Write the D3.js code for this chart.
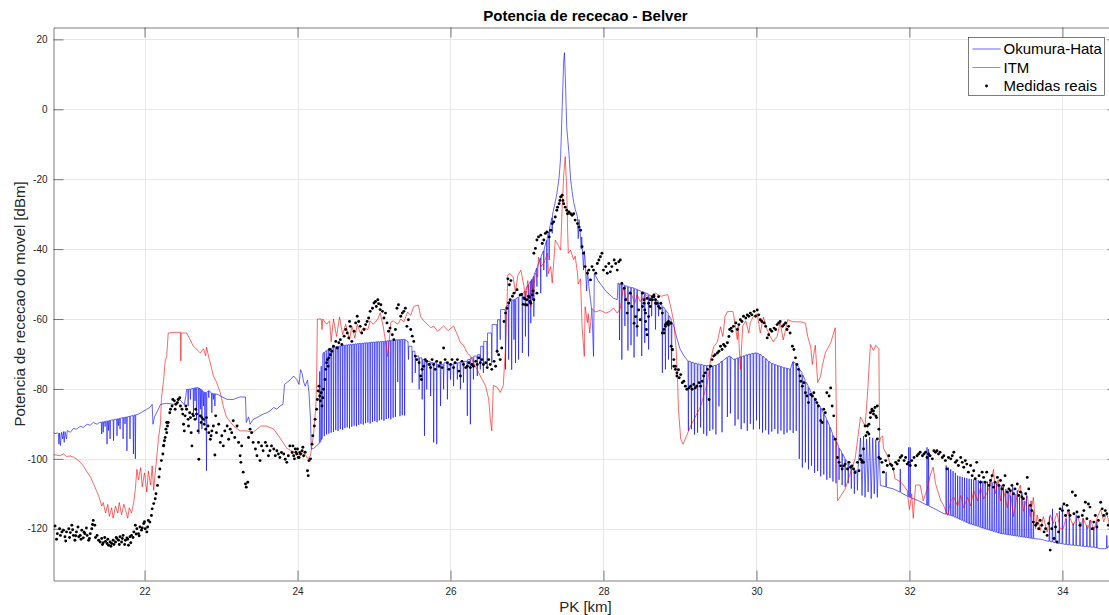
<!DOCTYPE html>
<html>
<head>
<meta charset="utf-8">
<script src="https://cdn.jsdelivr.net/npm/d3@7"></script>
<style>
  html, body { margin: 0; padding: 0; background: #ffffff; }
  svg { display: block; font-family: "Liberation Sans", Arial, Helvetica, sans-serif; }
</style>
</head>
<body>
<svg id="chart" width="1109" height="615"></svg>
<script>
// Axis ticks
const xTicks = [22, 24, 26, 28, 30, 32, 34];
const yTicks = [-120, -100, -80, -60, -40, -20, 0, 20];
const seriesNames = ["Okumura-Hata", "ITM", "Medidas reais"];

// Okumura-Hata prediction [PK km, dBm]
const hataPts = [
[20.81,-92.4],[20.83,-92.8],[20.86,-92.6],[20.875,-92.7],[20.88,-95.8],[20.89,-92.6],[20.90,-96.2],[20.915,-92.4],[20.93,-94.3],[20.94,-92.2],[20.95,-95.3],[20.96,-92.2],[20.98,-94.3],[20.99,-91.9],[21.03,-92.4],[21.07,-91.3],[21.11,-91.5],[21.16,-90.7],[21.20,-91.0],[21.25,-90.1],[21.29,-90.4],[21.33,-89.6],[21.38,-90.1],[21.41,-89.6],
[21.435,-89.5],[21.44,-92.9],[21.445,-89.5],[21.455,-89.4],[21.46,-92.4],[21.465,-89.4],[21.48,-89.3],[21.485,-90.8],[21.49,-89.3],[21.505,-89.2],[21.51,-95.8],[21.515,-89.2],[21.525,-89.1],[21.53,-91.9],[21.535,-89.1],[21.545,-89.0],[21.55,-94.3],[21.555,-89.0],[21.59,-88.8],[21.595,-94.8],[21.60,-88.8],[21.635,-88.6],[21.64,-93.4],[21.645,-88.6],[21.655,-88.5],[21.66,-90.5],[21.665,-88.5],[21.675,-88.4],[21.68,-91.5],[21.685,-88.4],[21.715,-88.2],[21.72,-94.3],[21.725,-88.2],[21.74,-88.1],[21.745,-90.0],[21.75,-88.1],[21.765,-88.0],[21.77,-97.7],[21.775,-88.0],[21.805,-87.8],[21.81,-94.3],[21.815,-87.8],[21.85,-87.6],[21.855,-98.6],[21.86,-87.6],[21.875,-87.4],[21.88,-100.0],[21.885,-87.4],
[21.92,-87.2],[21.96,-86.7],[22.03,-85.8],[22.07,-85.3],[22.10,-84.4],[22.11,-90.1],[22.13,-88.0],[22.17,-86.3],[22.21,-84.4],[22.29,-84.1],[22.38,-84.4],[22.42,-84.0],[22.46,-83.0],[22.52,-84.5],[22.54,-82.0],[22.55,-80.1],
[22.565,-80.1],[22.57,-84.9],[22.575,-80.1],[22.595,-80.0],[22.60,-83.0],[22.605,-80.0],[22.635,-79.8],[22.64,-86.8],[22.645,-79.8],[22.655,-79.7],[22.66,-83.4],[22.665,-79.7],[22.675,-79.6],[22.68,-88.7],[22.685,-79.6],[22.705,-79.7],[22.71,-92.9],[22.715,-79.7],[22.725,-80.0],[22.73,-85.8],[22.735,-80.0],[22.745,-80.4],[22.75,-91.5],[22.755,-80.4],[22.765,-80.8],[22.77,-84.9],[22.775,-80.8],[22.785,-81.0],[22.79,-89.6],[22.795,-81.0],[22.805,-81.0],[22.81,-103.4],[22.815,-81.0],[22.835,-80.5],[22.84,-82.5],[22.845,-80.5],[22.875,-81.2],[22.88,-86.8],[22.885,-81.2],[22.895,-81.3],[22.90,-83.0],[22.905,-81.3],[22.915,-81.4],[22.92,-84.9],[22.925,-81.4],[22.96,-81.6],
[22.99,-82.0],[23.08,-83.0],[23.16,-83.0],[23.25,-82.3],[23.32,-82.3],[23.33,-89.6],[23.36,-88.0],[23.38,-90.1],[23.42,-88.7],[23.47,-88.2],[23.51,-87.7],[23.55,-87.2],[23.60,-86.8],[23.64,-86.3],[23.69,-85.3],[23.73,-85.8],[23.77,-84.9],[23.81,-84.4],[23.83,-78.7],[23.86,-78.2],[23.91,-77.3],[23.95,-76.3],[23.99,-77.3],[24.02,-78.7],[24.04,-74.5],[24.06,-75.5],[24.08,-78.0],[24.10,-79.2],[24.13,-77.5],[24.15,-81.1],[24.17,-88.7],[24.18,-97.2],[24.21,-97.0],[24.24,-96.5],[24.26,-96.0],[24.275,-95.8],
[24.285,-95.5],[24.29,-75.0],[24.295,-95.3],[24.305,-95.0],[24.31,-73.5],[24.315,-94.5],[24.325,-94.0],[24.33,-70.0],[24.335,-69.8],
[24.345,-69.5],[24.35,-93.5],[24.355,-69.5],[24.375,-69.0],[24.38,-93.0],[24.385,-69.0],[24.405,-68.6],[24.41,-92.8],[24.415,-68.6],[24.435,-68.3],[24.44,-92.5],[24.445,-68.3],[24.465,-68.1],[24.47,-92.3],[24.475,-68.1],[24.495,-67.9],[24.50,-91.8],[24.505,-67.9],[24.525,-67.8],[24.53,-92.0],[24.535,-67.8],[24.555,-67.7],[24.56,-91.5],[24.565,-67.7],[24.585,-67.6],[24.59,-91.7],[24.595,-67.6],[24.615,-67.5],[24.62,-91.2],[24.625,-67.5],[24.645,-67.4],[24.65,-91.0],[24.655,-67.4],[24.675,-67.3],[24.68,-91.3],[24.685,-67.3],[24.705,-67.3],[24.71,-90.8],[24.715,-67.3],[24.735,-67.2],[24.74,-90.5],[24.745,-67.2],[24.765,-67.1],[24.77,-90.7],[24.775,-67.1],[24.795,-67.0],[24.80,-90.3],[24.805,-67.0],[24.825,-67.0],[24.83,-90.0],[24.835,-67.0],[24.855,-66.9],[24.86,-90.2],[24.865,-66.9],[24.885,-66.8],[24.89,-89.8],[24.895,-66.8],[24.915,-66.8],[24.92,-89.6],[24.925,-66.8],[24.945,-66.7],[24.95,-89.9],[24.955,-66.7],[24.975,-66.6],[24.98,-89.4],[24.985,-66.6],[25.005,-66.6],[25.01,-89.2],[25.015,-66.6],[25.035,-66.5],[25.04,-89.5],[25.045,-66.5],[25.065,-66.5],[25.07,-89.0],[25.075,-66.5],[25.095,-66.4],[25.10,-88.8],[25.105,-66.4],[25.125,-66.4],[25.13,-89.1],[25.135,-66.4],[25.155,-66.3],[25.16,-88.6],[25.165,-66.3],[25.185,-66.2],[25.19,-88.4],[25.195,-66.2],[25.215,-66.1],[25.22,-88.7],[25.225,-66.1],[25.245,-66.0],[25.25,-88.2],[25.255,-66.0],[25.275,-66.0],[25.28,-88.0],[25.285,-66.0],[25.305,-65.9],[25.31,-78.0],[25.315,-65.9],[25.335,-65.9],[25.34,-87.8],[25.345,-65.9],[25.365,-65.8],[25.37,-87.5],[25.375,-65.8],[25.395,-65.8],[25.40,-87.6],[25.405,-65.8],
[25.43,-66.4],[25.445,-66.4],[25.45,-71.6],[25.455,-67.8],[25.495,-67.8],[25.50,-78.2],[25.505,-69.2],[25.535,-69.2],[25.54,-75.4],[25.545,-70.6],[25.585,-70.6],[25.59,-80.1],[25.595,-71.1],[25.625,-71.1],[25.63,-83.0],[25.635,-71.6],[25.655,-71.6],[25.66,-93.4],[25.665,-72.1],[25.685,-72.1],[25.69,-80.1],[25.695,-72.1],[25.735,-72.1],[25.74,-82.0],[25.745,-72.5],[25.775,-72.5],[25.78,-95.3],[25.785,-72.5],[25.815,-72.5],[25.82,-95.8],[25.825,-73.0],[25.865,-73.0],[25.87,-84.9],[25.875,-73.0],[25.905,-73.0],[25.91,-80.1],[25.915,-72.5],[25.955,-72.5],[25.96,-83.0],[25.965,-73.0],[25.995,-73.0],[26.00,-77.3],[26.005,-73.0],[26.035,-73.0],[26.04,-79.2],[26.045,-72.5],[26.085,-72.5],[26.09,-77.3],[26.095,-72.5],[26.125,-72.5],[26.13,-80.1],[26.135,-72.1],[26.165,-72.1],[26.17,-78.2],[26.175,-72.1],[26.215,-72.1],[26.22,-87.7],[26.225,-71.6],[26.255,-71.6],[26.26,-90.1],[26.265,-71.1],[26.295,-71.1],[26.30,-77.3],[26.305,-70.6],[26.345,-70.6],[26.35,-76.3],[26.355,-70.2],[26.385,-70.2],[26.39,-74.4],[26.395,-67.8],[26.425,-67.8],[26.43,-75.4],[26.435,-66.4],[26.475,-66.4],[26.48,-73.5],[26.485,-64.0],[26.535,-64.0],[26.54,-72.5],[26.545,-61.6],[26.605,-61.6],[26.61,-69.7],[26.615,-60.2],[26.645,-60.2],[26.65,-65.9],[26.655,-57.3],[26.715,-57.3],[26.72,-74.4],[26.725,-56.4],
[26.755,-56.0],[26.76,-71.6],[26.765,-55.0],[26.795,-54.9],[26.80,-74.5],[26.805,-54.6],[26.825,-54.5],[26.83,-65.9],[26.835,-54.4],[26.845,-54.3],[26.85,-72.6],[26.855,-54.1],[26.885,-53.8],[26.89,-71.6],[26.895,-53.6],[26.935,-53.0],[26.94,-69.7],[26.945,-52.7],[26.975,-52.0],[26.98,-65.0],[26.985,-51.5],[27.015,-50.3],[27.02,-70.7],[27.025,-50.0],[27.045,-49.2],[27.05,-61.2],[27.055,-49.0],[27.065,-48.6],[27.07,-54.5],[27.075,-48.3],[27.085,-47.8],[27.09,-59.3],[27.095,-47.3],[27.125,-45.5],[27.13,-50.7],[27.135,-45.0],[27.175,-42.5],[27.18,-52.6],[27.185,-42.0],[27.215,-40.5],[27.22,-46.0],[27.225,-40.0],[27.255,-37.5],[27.26,-47.9],[27.265,-36.5],[27.285,-35.0],[27.29,-43.1],[27.295,-34.0],[27.325,-31.0],[27.33,-35.5],[27.335,-30.0],
[27.36,-27.5],[27.39,-24.2],[27.42,-19.5],[27.44,-13.7],[27.46,0.5],[27.48,13.8],[27.49,16.2],[27.50,10.0],[27.52,-5.2],[27.55,-13.0],[27.57,-20.0],[27.59,-23.5],[27.61,-26.5],[27.63,-28.5],[27.66,-30.8],[27.67,-37.0],[27.68,-31.5],[27.69,-33.6],[27.71,-40.0],[27.715,-36.5],[27.72,-38.4],[27.74,-46.0],[27.75,-40.5],[27.76,-43.1],[27.78,-52.0],[27.79,-46.0],[27.81,-50.7],[27.83,-54.5],[27.85,-58.0],[27.87,-70.7],[27.88,-47.0],[27.93,-49.0],[27.98,-50.5],[28.03,-52.0],[28.08,-53.0],[28.13,-54.0],[28.18,-54.5],[28.19,-49.7],
[28.205,-49.8],[28.21,-66.0],[28.215,-50.0],[28.235,-50.1],[28.24,-71.6],[28.245,-50.2],[28.275,-50.3],[28.28,-62.0],[28.285,-50.5],[28.315,-50.6],[28.32,-69.0],[28.325,-50.8],[28.355,-50.9],[28.36,-67.5],[28.365,-51.0],[28.395,-51.1],[28.40,-71.0],[28.405,-51.3],[28.435,-51.5],[28.44,-65.0],[28.445,-51.6],
[28.495,-52.1],[28.50,-70.6],[28.505,-52.2],[28.535,-52.3],[28.54,-66.8],[28.545,-52.5],[28.585,-52.8],[28.59,-68.7],[28.595,-53.1],[28.625,-53.3],[28.63,-59.2],[28.635,-53.6],[28.675,-54.0],[28.68,-63.0],[28.685,-54.5],[28.715,-54.8],[28.72,-59.2],[28.725,-55.5],[28.765,-56.0],[28.77,-75.4],[28.775,-56.5],[28.805,-57.0],[28.81,-74.4],[28.815,-57.5],[28.845,-58.3],[28.85,-71.6],[28.855,-59.0],[28.885,-60.0],[28.89,-74.4],[28.895,-61.0],
[28.92,-62.1],[28.96,-65.5],[29.00,-68.5],[29.05,-70.5],[29.09,-71.6],
[29.105,-72.0],[29.11,-92.0],[29.115,-72.0],[29.145,-72.3],[29.15,-91.5],[29.155,-72.3],[29.185,-72.6],[29.19,-93.0],[29.195,-72.6],[29.225,-72.8],[29.23,-92.5],[29.235,-72.8],[29.265,-73.0],[29.27,-91.0],[29.275,-73.0],[29.305,-73.2],[29.31,-92.8],[29.315,-73.2],[29.345,-73.3],[29.35,-93.4],[29.355,-73.3],[29.385,-73.4],[29.39,-92.0],[29.395,-73.4],[29.425,-73.4],[29.43,-91.6],[29.435,-73.4],[29.465,-73.2],[29.47,-93.0],[29.475,-73.2],[29.505,-72.8],[29.51,-85.0],[29.515,-72.8],[29.545,-72.0],[29.55,-92.4],[29.555,-72.0],
[29.58,-71.6],[29.615,-71.0],[29.62,-88.0],[29.625,-70.8],[29.655,-70.6],[29.66,-87.0],[29.665,-70.8],[29.70,-71.6],
[29.715,-71.4],[29.72,-90.5],[29.725,-71.4],[29.755,-71.1],[29.76,-88.7],[29.765,-71.1],[29.795,-70.8],[29.80,-91.5],[29.805,-70.8],[29.835,-70.5],[29.84,-89.8],[29.845,-70.5],[29.875,-70.2],[29.88,-92.0],[29.885,-70.2],[29.915,-70.0],[29.92,-90.0],[29.925,-70.0],[29.955,-69.8],[29.96,-91.6],[29.965,-69.8],[29.995,-69.7],[30.00,-89.0],[30.005,-69.7],
[30.035,-70.0],[30.04,-91.5],[30.045,-70.0],[30.075,-70.6],[30.08,-92.5],[30.085,-70.6],[30.115,-71.3],[30.12,-91.8],[30.125,-71.3],[30.155,-72.1],[30.16,-93.0],[30.165,-72.1],[30.195,-72.7],[30.20,-92.2],[30.205,-72.7],[30.235,-73.0],[30.24,-91.5],[30.245,-73.0],[30.275,-73.3],[30.28,-92.8],[30.285,-73.3],[30.315,-73.6],[30.32,-91.9],[30.325,-73.6],[30.355,-73.9],[30.36,-93.0],[30.365,-73.9],[30.395,-74.1],[30.40,-92.5],[30.405,-74.1],[30.435,-74.3],[30.44,-91.8],[30.445,-74.3],[30.475,-72.2],[30.48,-92.6],[30.485,-72.2],[30.515,-72.8],[30.52,-92.0],[30.525,-72.8],
[30.555,-73.8],[30.56,-100.0],[30.565,-74.4],[30.595,-75.3],[30.60,-102.5],[30.605,-76.0],[30.635,-77.3],[30.64,-101.0],[30.645,-78.0],[30.675,-79.0],[30.68,-103.0],[30.685,-79.6],[30.715,-81.0],[30.72,-102.0],[30.725,-81.5],[30.755,-82.5],[30.76,-104.0],[30.765,-83.0],[30.795,-84.0],[30.80,-103.5],[30.805,-84.5],[30.835,-85.0],[30.84,-105.0],[30.845,-85.5],[30.875,-86.8],[30.88,-104.5],[30.885,-87.2],[30.915,-88.5],[30.92,-106.0],[30.925,-89.0],[30.955,-90.5],[30.96,-105.5],[30.965,-91.0],[30.995,-92.8],[31.00,-106.5],[31.005,-93.3],[31.035,-94.5],[31.04,-107.0],[31.045,-95.0],[31.075,-96.5],[31.08,-106.0],[31.085,-97.0],[31.115,-98.0],[31.12,-107.5],[31.125,-98.5],[31.155,-99.8],[31.16,-108.0],[31.165,-100.2],[31.195,-101.0],[31.20,-107.0],[31.205,-101.5],[31.235,-102.0],[31.24,-108.5],[31.245,-102.3],[31.275,-102.9],[31.28,-110.0],[31.285,-103.2],[31.315,-103.5],[31.32,-109.0],[31.325,-103.8],
[31.36,-94.0],[31.38,-110.5],[31.40,-93.5],[31.42,-111.0],[31.44,-94.3],[31.46,-109.5],[31.48,-93.8],[31.50,-111.4],[31.52,-94.0],[31.54,-110.0],[31.56,-94.5],[31.58,-111.0],[31.60,-95.0],[31.62,-107.6],
[31.69,-108.0],[31.695,-103.8],[31.70,-108.1],[31.79,-108.6],[31.875,-109.5],[31.88,-102.9],[31.885,-109.6],[31.985,-110.8],[31.99,-96.7],[31.995,-110.9],[32.005,-111.0],[32.01,-96.7],[32.015,-111.1],[32.12,-112.0],[32.225,-113.2],[32.23,-96.7],[32.235,-113.3],[32.245,-113.4],[32.25,-97.2],[32.255,-113.5],[32.35,-114.5],[32.45,-115.7],
[32.475,-115.8],[32.48,-101.9],[32.485,-115.8],[32.505,-116.0],[32.51,-102.5],[32.515,-116.0],[32.535,-116.2],[32.54,-103.0],[32.545,-116.2],[32.565,-116.4],[32.57,-103.5],[32.575,-116.4],[32.595,-116.7],[32.60,-104.0],[32.605,-116.7],[32.625,-117.0],[32.63,-104.8],[32.635,-117.0],[32.655,-117.3],[32.66,-105.0],[32.665,-117.3],[32.685,-117.6],[32.69,-105.2],[32.695,-117.6],[32.715,-117.9],[32.72,-105.4],[32.725,-117.9],[32.745,-118.2],[32.75,-105.5],[32.755,-118.2],[32.775,-118.5],[32.78,-105.7],[32.785,-118.5],[32.805,-118.7],[32.81,-105.8],[32.815,-118.7],[32.835,-118.9],[32.84,-105.9],[32.845,-118.9],[32.865,-119.1],[32.87,-106.0],[32.875,-119.1],[32.895,-119.3],[32.90,-106.1],[32.905,-119.3],[32.925,-119.6],[32.93,-106.2],[32.935,-119.6],[32.955,-119.8],[32.96,-106.3],[32.965,-119.8],[32.985,-120.0],[32.99,-106.4],[32.995,-120.0],[33.015,-120.2],[33.02,-106.5],[33.025,-120.2],[33.045,-120.4],[33.05,-106.6],[33.055,-120.4],[33.075,-120.6],[33.08,-106.7],[33.085,-120.6],[33.105,-120.8],[33.11,-106.8],[33.115,-120.8],[33.135,-121.0],[33.14,-107.0],[33.145,-121.0],[33.165,-121.2],[33.17,-107.3],[33.175,-121.2],[33.195,-121.4],[33.20,-107.6],[33.205,-121.4],[33.225,-121.5],[33.23,-108.0],[33.235,-121.5],[33.255,-121.6],[33.26,-108.6],[33.265,-121.6],[33.285,-121.7],[33.29,-109.5],[33.295,-121.7],[33.315,-121.8],[33.32,-110.5],[33.325,-121.8],[33.345,-121.9],[33.35,-108.0],[33.355,-121.9],[33.375,-122.0],[33.38,-110.0],[33.385,-122.0],[33.405,-122.1],[33.41,-109.0],[33.415,-122.1],[33.435,-122.2],[33.44,-111.0],[33.445,-122.2],[33.465,-122.3],[33.47,-109.5],[33.475,-122.3],[33.495,-122.4],[33.50,-112.0],[33.505,-122.4],[33.525,-122.5],[33.53,-110.5],[33.535,-122.5],[33.555,-122.6],[33.56,-113.3],[33.565,-122.6],[33.585,-122.7],[33.59,-112.0],[33.595,-122.7],[33.615,-122.8],[33.62,-115.0],[33.625,-122.8],
[33.72,-123.0],[33.80,-123.5],
[33.825,-123.6],[33.83,-116.5],[33.835,-123.6],[33.865,-123.8],[33.87,-114.3],[33.875,-123.8],[33.905,-124.0],[33.91,-118.0],[33.915,-124.0],[33.955,-124.2],[33.96,-115.0],[33.965,-124.2],[33.995,-124.3],[34.00,-113.3],[34.005,-124.3],[34.045,-124.5],[34.05,-117.1],[34.055,-124.5],[34.085,-124.6],[34.09,-115.2],[34.095,-124.6],[34.135,-124.7],[34.14,-118.5],[34.145,-124.7],[34.175,-124.8],[34.18,-116.0],[34.185,-124.8],[34.225,-124.9],[34.23,-118.1],[34.235,-124.9],[34.265,-125.0],[34.27,-117.0],[34.275,-125.0],[34.315,-125.1],[34.32,-119.0],[34.325,-125.1],[34.355,-125.2],[34.36,-117.5],[34.365,-125.2],[34.405,-125.3],[34.41,-119.5],[34.415,-125.3],[34.445,-125.5],[34.45,-118.0],[34.455,-125.5],
[34.50,-125.7],[34.55,-125.7],[34.575,-125.6],[34.58,-121.9],[34.585,-125.6],[34.61,-124.7],[34.63,-125.0]
];

// ITM prediction [PK km, dBm]
const itmPts = [
[20.81,-98.8],[20.90,-99.1],[20.94,-98.6],[20.98,-99.3],[21.03,-99.2],[21.07,-99.5],[21.12,-100.2],[21.16,-101.0],[21.20,-102.0],[21.24,-103.5],[21.29,-105.0],[21.33,-107.0],[21.37,-109.0],[21.40,-110.5],[21.44,-113.5],[21.46,-112.5],[21.49,-115.5],[21.52,-113.0],[21.54,-116.5],[21.57,-114.0],[21.59,-117.0],[21.62,-113.5],[21.65,-115.5],[21.67,-112.5],[21.70,-116.0],[21.73,-113.0],[21.75,-114.5],[21.78,-117.0],[21.80,-114.0],[21.83,-115.5],[21.86,-112.3],[21.88,-108.6],[21.90,-103.0],[21.92,-106.0],[21.95,-102.5],[21.97,-108.0],[22.00,-104.0],[22.03,-109.5],[22.05,-103.5],[22.08,-107.5],[22.10,-102.0],[22.12,-109.0],[22.14,-104.0],[22.16,-99.6],[22.18,-94.6],[22.21,-89.6],[22.22,-83.0],[22.25,-77.3],[22.27,-72.0],[22.29,-70.5],[22.31,-64.0],[22.41,-63.8],[22.47,-63.8],[22.475,-72.0],[22.48,-64.0],[22.55,-64.0],[22.64,-67.8],[22.73,-69.7],[22.77,-68.5],[22.80,-70.5],[22.81,-68.0],[22.84,-71.0],[22.86,-72.5],[22.90,-76.3],[22.94,-78.0],[22.99,-81.0],[23.03,-85.0],[23.07,-88.0],[23.16,-90.5],[23.25,-92.0],[23.33,-92.0],[23.42,-92.4],[23.52,-90.6],[23.59,-90.6],[23.69,-91.5],[23.78,-94.3],[23.86,-97.0],[23.95,-98.0],[24.04,-99.0],[24.08,-98.0],[24.12,-99.5],[24.14,-100.0],[24.17,-99.0],[24.21,-93.0],[24.24,-85.0],[24.25,-77.0],[24.26,-60.0],[24.31,-60.0],[24.32,-63.0],[24.33,-60.0],[24.38,-61.5],[24.42,-60.5],[24.44,-66.5],[24.47,-60.0],[24.51,-65.0],[24.55,-59.4],[24.59,-64.5],[24.63,-61.5],[24.68,-66.0],[24.71,-62.0],[24.75,-65.5],[24.78,-61.5],[24.82,-64.0],[24.86,-62.5],[24.92,-63.0],[24.95,-60.5],[24.99,-61.5],[25.05,-60.0],[25.08,-58.2],[25.12,-62.0],[25.18,-70.7],[25.22,-61.0],[25.25,-60.5],[25.31,-61.5],[25.35,-60.0],[25.39,-60.8],[25.44,-58.0],[25.48,-59.0],[25.52,-56.4],[25.58,-56.0],[25.61,-59.3],[25.65,-60.5],[25.70,-61.5],[25.74,-62.5],[25.78,-62.0],[25.83,-63.5],[25.87,-62.8],[25.91,-62.0],[25.97,-63.3],[26.04,-62.0],[26.09,-64.5],[26.13,-66.8],[26.17,-67.5],[26.22,-69.7],[26.26,-70.5],[26.30,-72.5],[26.35,-74.5],[26.39,-76.3],[26.46,-79.2],[26.50,-83.0],[26.52,-88.6],[26.54,-92.0],[26.55,-85.0],[26.56,-79.0],[26.61,-79.5],[26.65,-81.0],[26.69,-79.0],[26.72,-68.0],[26.75,-47.4],[26.78,-47.0],[26.82,-48.0],[26.85,-52.5],[26.88,-47.5],[26.92,-46.0],[26.96,-50.5],[26.98,-55.0],[27.01,-49.0],[27.05,-56.5],[27.06,-48.8],[27.08,-53.0],[27.11,-46.8],[27.14,-48.0],[27.15,-42.3],[27.18,-45.0],[27.22,-44.0],[27.27,-41.2],[27.28,-47.0],[27.31,-45.0],[27.33,-49.7],[27.37,-37.4],[27.41,-39.0],[27.44,-40.3],[27.46,-28.0],[27.48,-19.0],[27.50,-13.5],[27.52,-23.0],[27.53,-33.6],[27.54,-41.2],[27.57,-40.3],[27.61,-43.0],[27.63,-42.0],[27.66,-46.8],[27.67,-50.0],[27.70,-48.5],[27.72,-62.2],[27.75,-70.7],[27.76,-56.5],[27.79,-61.0],[27.80,-58.5],[27.82,-64.0],[27.85,-57.0],[27.89,-58.0],[27.96,-57.5],[28.03,-58.3],[28.09,-57.8],[28.13,-56.8],[28.18,-58.3],[28.22,-57.0],[28.26,-51.0],[28.30,-54.5],[28.35,-52.0],[28.41,-55.5],[28.44,-53.0],[28.48,-55.0],[28.55,-53.0],[28.61,-54.0],[28.68,-52.6],[28.75,-53.5],[28.84,-53.0],[28.88,-56.5],[28.92,-61.0],[28.95,-68.7],[28.97,-78.2],[28.98,-85.8],[29.01,-94.3],[29.04,-95.8],[29.14,-90.6],[29.27,-85.0],[29.36,-78.2],[29.40,-71.6],[29.44,-68.0],[29.49,-66.5],[29.53,-62.2],[29.56,-65.0],[29.59,-59.2],[29.62,-57.9],[29.69,-57.8],[29.70,-58.5],[29.75,-65.9],[29.76,-62.0],[29.79,-74.4],[29.82,-62.0],[29.86,-60.5],[29.90,-64.0],[29.92,-61.0],[29.96,-59.2],[30.01,-58.5],[30.05,-64.0],[30.09,-59.5],[30.14,-63.0],[30.18,-65.0],[30.22,-66.5],[30.27,-65.0],[30.31,-61.0],[30.35,-66.0],[30.41,-60.2],[30.48,-60.8],[30.58,-60.8],[30.64,-61.2],[30.67,-65.0],[30.71,-68.0],[30.73,-73.0],[30.75,-70.0],[30.77,-67.5],[30.80,-78.2],[30.84,-76.3],[30.86,-73.5],[30.90,-69.7],[30.97,-66.8],[31.03,-62.5],[31.05,-97.2],[31.06,-112.0],[31.16,-108.6],[31.29,-100.0],[31.36,-88.0],[31.42,-90.6],[31.45,-82.0],[31.49,-67.3],[31.53,-69.0],[31.56,-67.5],[31.60,-68.5],[31.61,-95.2],[31.62,-94.0],[31.65,-93.5],[31.66,-97.0],[31.71,-99.0],[31.75,-101.5],[31.79,-103.0],[31.81,-105.7],[31.88,-106.5],[31.92,-107.5],[31.97,-109.0],[32.00,-114.5],[32.03,-110.0],[32.05,-117.0],[32.08,-107.5],[32.14,-107.5],[32.18,-112.0],[32.24,-108.0],[32.27,-104.8],[32.31,-102.4],[32.34,-107.0],[32.41,-112.0],[32.44,-113.0],[32.50,-116.2],[32.54,-112.0],[32.58,-111.0],[32.63,-113.5],[32.67,-110.5],[32.71,-114.0],[32.76,-111.0],[32.80,-113.5],[32.84,-109.0],[32.89,-112.0],[32.93,-108.0],[32.97,-111.5],[33.02,-109.5],[33.06,-107.0],[33.10,-103.0],[33.12,-110.0],[33.16,-106.0],[33.19,-112.0],[33.22,-108.0],[33.28,-114.0],[33.32,-109.0],[33.36,-116.5],[33.41,-110.0],[33.45,-107.5],[33.49,-115.0],[33.54,-110.5],[33.58,-116.5],[33.62,-111.0],[33.65,-120.0],[33.67,-116.0],[33.71,-120.5],[33.75,-116.5],[33.80,-121.0],[33.84,-116.0],[33.88,-118.5],[33.93,-115.5],[33.97,-120.0],[34.01,-120.0],[34.07,-115.0],[34.10,-117.0],[34.14,-119.0],[34.20,-116.5],[34.24,-119.5],[34.27,-117.0],[34.33,-120.0],[34.37,-117.5],[34.41,-120.5],[34.46,-116.5],[34.50,-114.5],[34.54,-118.0],[34.58,-115.5],[34.61,-118.5]
];

// Field measurements [PK km, dBm]
const measPts = [
[20.83,-119.2],[20.86,-121.4],[20.90,-121.9],[20.92,-120.9],[20.94,-120.4],[20.96,-122.3],[20.98,-120.9],[21.01,-120.0],[21.03,-121.1],[21.05,-119.0],[21.07,-121.9],[21.09,-123.3],[21.11,-120.9],[21.14,-122.3],[21.16,-121.9],[21.18,-120.4],[21.20,-122.6],[21.22,-121.4],[21.25,-121.9],[21.27,-123.3],[21.29,-121.4],[21.31,-120.0],[21.33,-117.6],[21.35,-119.0],[21.38,-121.9],[21.40,-123.3],[21.42,-123.8],[21.44,-122.8],[21.46,-124.0],[21.49,-123.6],[21.51,-124.2],[21.53,-124.7],[21.55,-123.8],[21.57,-124.2],[21.59,-123.3],[21.62,-123.8],[21.64,-122.8],[21.66,-123.3],[21.68,-122.3],[21.70,-123.8],[21.72,-121.9],[21.75,-123.3],[21.77,-122.6],[21.79,-124.7],[21.81,-122.3],[21.83,-121.9],[21.86,-120.9],[21.88,-119.0],[21.90,-120.0],[21.92,-121.4],[21.94,-119.5],[21.96,-120.4],[21.99,-118.5],[22.01,-120.0],[22.03,-120.9],[22.05,-117.6],[22.07,-118.1],[22.09,-116.2],[22.10,-114.3],[22.12,-112.8],[22.14,-111.4],[22.15,-110.0],[22.17,-107.6],[22.19,-105.2],[22.20,-102.9],[22.22,-100.5],[22.24,-98.6],[22.25,-96.2],[22.26,-94.8],[22.28,-91.5],[22.29,-89.6],
[20.85,-123.0],[20.89,-120.0],[20.97,-123.5],[21.02,-122.5],[21.06,-120.3],[21.10,-122.0],[21.13,-119.5],[21.17,-123.0],[21.21,-121.0],[21.24,-119.8],[21.28,-122.8],[21.32,-118.8],[21.36,-122.5],[21.45,-124.5],[21.48,-122.5],[21.52,-123.0],[21.56,-125.0],[21.60,-124.5],[21.63,-122.5],[21.67,-124.5],[21.71,-122.8],[21.74,-124.5],[21.78,-123.0],[21.82,-124.0],[21.85,-122.5],[21.89,-121.5],[21.93,-122.0],[21.97,-119.8],[22.00,-118.0],[22.04,-119.5],
[22.25,-96.3],[22.27,-93.9],[22.29,-92.5],[22.30,-90.6],[22.31,-89.6],[22.33,-86.8],[22.34,-85.8],[22.36,-84.9],[22.37,-83.0],[22.39,-83.4],[22.40,-85.8],[22.41,-84.4],[22.43,-83.9],[22.44,-83.0],[22.46,-82.5],[22.47,-84.9],[22.49,-85.8],[22.50,-87.2],[22.51,-90.1],[22.52,-92.0],[22.53,-87.7],[22.54,-84.9],[22.55,-85.8],[22.57,-88.7],[22.575,-90.6],[22.59,-86.8],[22.60,-88.2],[22.61,-92.5],[22.62,-96.3],[22.63,-87.2],[22.64,-87.7],[22.66,-88.7],[22.67,-85.8],[22.68,-87.2],[22.70,-92.0],[22.71,-100.1],[22.73,-87.7],[22.74,-89.6],[22.75,-88.2],[22.77,-88.7],[22.78,-90.1],[22.80,-91.5],[22.81,-88.2],[22.83,-90.6],[22.84,-92.5],[22.86,-94.4],[22.87,-93.4],[22.88,-92.0],[22.90,-90.6],[22.92,-98.9],[22.93,-87.7],[22.94,-92.5],[22.97,-90.1],[22.99,-95.3],[23.01,-93.4],[23.03,-96.3],[23.05,-92.0],[23.08,-90.6],[23.10,-94.4],[23.12,-91.5],[23.14,-92.5],[23.16,-89.1],[23.18,-93.9],[23.21,-90.6],[23.23,-95.3],[23.25,-99.1],[23.26,-101.0],[23.27,-96.3],[23.29,-103.8],[23.32,-107.2],[23.33,-108.1],[23.35,-106.7],[23.36,-93.9],[23.38,-91.5],[23.40,-92.5],[23.42,-95.3],[23.45,-97.2],[23.47,-99.1],[23.49,-95.3],[23.51,-100.5],[23.53,-96.3],[23.55,-97.7],[23.58,-95.3],[23.60,-96.3],[23.62,-99.1],[23.64,-97.7],[23.66,-96.3],[23.69,-97.2],[23.71,-99.1],[23.73,-97.7],[23.75,-98.6],[23.77,-99.6],[23.79,-98.2],[23.82,-98.6],[23.84,-100.1],[23.86,-101.0],[23.88,-99.1],[23.90,-96.3],[23.93,-98.2],[23.95,-99.1],[23.97,-97.2],[23.99,-98.6],[24.01,-99.6],[24.03,-98.2],[24.06,-97.7],
[23.94,-96.3],[23.96,-100.0],[23.98,-98.1],[24.00,-97.2],[24.02,-99.6],[24.04,-98.6],[24.07,-96.7],[24.08,-99.1],[24.10,-98.1],[24.13,-103.4],[24.14,-104.8],[24.15,-100.5],[24.17,-100.0],[24.19,-95.8],[24.20,-93.4],[24.22,-90.6],[24.23,-88.7],[24.25,-85.8],[24.26,-83.0],[24.27,-80.6],[24.28,-79.2],[24.29,-82.0],[24.30,-83.4],[24.31,-81.1],[24.32,-84.9],[24.33,-82.5],[24.34,-80.1],[24.36,-77.3],[24.37,-74.4],[24.38,-72.5],[24.39,-71.6],[24.40,-73.5],[24.41,-71.1],[24.42,-68.7],[24.43,-70.2],[24.45,-69.2],[24.47,-67.8],[24.50,-66.4],[24.52,-68.3],[24.54,-66.8],[24.56,-65.9],[24.58,-67.3],[24.61,-64.9],[24.63,-63.0],[24.65,-64.0],[24.67,-65.4],[24.68,-60.7],[24.69,-62.1],[24.71,-66.4],[24.74,-63.5],[24.76,-61.1],[24.78,-59.2],[24.80,-60.7],[24.82,-62.1],[24.84,-64.0],[24.87,-63.0],[24.89,-61.6],[24.91,-60.7],[24.93,-59.7],[24.95,-57.8],[24.98,-56.9],[25.00,-55.4],[25.02,-55.0],[25.03,-56.4],[25.05,-54.5],[25.06,-55.6],[25.08,-57.3],[25.09,-55.9],[25.11,-57.8],[25.13,-59.7],[25.15,-58.3],[25.17,-61.1],[25.19,-63.5],[25.21,-62.6],[25.24,-64.5],[25.26,-65.9],[25.28,-63.0],[25.30,-56.9],[25.32,-55.9],[25.35,-59.2],[25.37,-58.3],[25.39,-57.8],[25.41,-56.9],[25.43,-62.1],[25.45,-60.2],[25.48,-63.0],[25.50,-64.9],[25.52,-66.4],[25.54,-70.6],[25.56,-71.6],[25.59,-72.5],[25.61,-76.3],[25.62,-77.3],[25.63,-74.4],[25.65,-73.5],[25.67,-71.6],[25.69,-72.1],[25.72,-73.0],[25.74,-73.9],[25.76,-71.6],[25.78,-73.0],[25.80,-74.4],[25.82,-72.1],[25.85,-73.5],[25.87,-72.5],[25.89,-73.9],[25.91,-68.3],[25.93,-71.6],[25.96,-72.5],[25.98,-74.4],[26.00,-73.0],[26.02,-71.6],[26.04,-73.9],[26.06,-72.5],[26.09,-71.6],[26.11,-74.9],[26.13,-76.3],[26.15,-72.1],[26.17,-73.0],[26.20,-73.9],[26.22,-73.5],[26.24,-72.5],[26.26,-73.9],[26.28,-73.0],[26.30,-73.5],[26.33,-72.1],[26.35,-73.0],[26.37,-71.1],[26.39,-72.5],[26.41,-71.6],[26.43,-73.0],[26.46,-72.5],[26.48,-73.9],[26.50,-71.6],[26.52,-73.0],[26.54,-74.4],[26.57,-72.1],[26.59,-73.5],[26.61,-69.2],[26.63,-70.2],[26.65,-71.6],[26.67,-68.3],[26.70,-60.7],[26.72,-58.3],[26.74,-56.9],[26.76,-55.4],[26.78,-54.5],[26.81,-53.5],[26.83,-52.6],[26.87,-51.6],[26.91,-53.1],[26.96,-54.0],[26.98,-55.9],[27.00,-54.5],[27.02,-53.5],[27.04,-55.0],[27.07,-53.1],[27.09,-54.5],[27.13,-52.6],
[26.75,-48.5],[26.77,-50.2],[26.79,-49.0],[26.93,-53.0],[26.95,-55.8],[26.97,-54.2],[27.00,-56.0],[27.03,-53.8],[27.05,-55.5],[27.08,-52.0],
[27.09,-41.2],[27.11,-39.8],[27.13,-37.4],[27.15,-36.5],[27.18,-36.0],[27.20,-38.4],[27.22,-37.4],[27.24,-35.5],[27.26,-35.1],[27.29,-36.5],[27.31,-34.6],[27.33,-32.7],[27.35,-32.2],[27.37,-30.8],[27.39,-28.9],[27.40,-28.0],[27.42,-27.0],[27.43,-26.1],[27.44,-25.1],[27.46,-24.6],[27.47,-26.1],[27.48,-27.0],[27.50,-28.0],[27.52,-28.9],[27.53,-29.9],[27.55,-29.4],[27.57,-29.9],[27.59,-30.3],[27.61,-29.9],[27.63,-31.7],[27.66,-32.7],[27.68,-33.7],[27.70,-34.6],[27.72,-39.3],[27.74,-41.2],[27.76,-45.0],[27.79,-46.9],[27.81,-46.0],[27.83,-48.8],[27.85,-45.0],[27.87,-46.0],[27.90,-46.9],[27.92,-44.1],[27.94,-43.1],[27.96,-42.2],[27.98,-41.2],[28.00,-46.0],[28.03,-45.0],[28.05,-46.9],[28.07,-44.1],[28.09,-46.5],[28.11,-45.0],[28.14,-43.1],[28.16,-44.1],[28.18,-46.0],[28.20,-43.6],[28.22,-43.1],[28.24,-49.8],[28.27,-51.2],[28.29,-54.5],[28.31,-58.3],[28.33,-55.5],[28.35,-52.6],[28.37,-56.4],[28.40,-61.2],[28.42,-59.3],[28.44,-62.1],[28.46,-57.4],[28.48,-60.2],[28.51,-56.4],[28.53,-55.5],[28.55,-58.3],[28.57,-54.1],[28.59,-55.5],[28.61,-56.4],[28.64,-54.5],[28.66,-53.6],[28.68,-55.5],[28.70,-55.5],[28.72,-56.4],[28.74,-56.9],[28.77,-58.3],[28.79,-64.0],[28.81,-62.1],[28.83,-61.2],[28.85,-61.7],[28.88,-61.2],[28.90,-68.8],[28.92,-71.6],[28.94,-73.5],[28.96,-75.4],[28.98,-74.5],
[28.51,-52.6],[28.53,-54.5],[28.54,-57.4],[28.55,-60.7],[28.56,-63.0],[28.57,-64.5],[28.59,-59.3],[28.61,-54.5],[28.64,-53.6],[28.66,-53.1],[28.68,-54.5],[28.70,-55.5],[28.72,-53.6],[28.75,-55.5],[28.77,-64.0],[28.79,-63.0],[28.81,-61.6],[28.83,-61.1],[28.85,-60.7],[28.88,-61.1],[28.885,-67.8],[28.90,-68.7],[28.92,-73.5],[28.94,-74.4],[28.96,-76.3],[28.99,-76.8],[29.01,-75.9],[29.03,-78.2],[29.05,-77.8],[29.07,-79.2],[29.09,-80.1],[29.12,-79.7],[29.14,-79.2],[29.16,-80.1],[29.18,-78.7],[29.20,-79.7],[29.22,-79.2],[29.25,-78.2],[29.27,-79.2],[29.29,-77.8],[29.31,-76.3],[29.33,-75.4],[29.36,-74.4],[29.38,-83.0],[29.40,-73.5],[29.42,-71.6],[29.44,-70.6],[29.46,-70.2],[29.49,-69.7],[29.51,-69.2],[29.53,-67.8],[29.55,-68.7],[29.57,-67.3],[29.59,-67.8],[29.62,-66.8],[29.64,-65.0],[29.65,-63.0],[29.67,-62.6],[29.68,-63.5],[29.70,-62.1],[29.73,-61.1],[29.75,-63.0],[29.77,-61.6],[29.79,-60.2],[29.81,-60.7],[29.83,-59.2],[29.86,-59.7],[29.88,-58.8],[29.90,-59.2],[29.92,-58.3],[29.94,-58.8],[29.97,-57.8],[29.99,-59.2],[30.01,-57.4],[30.03,-58.8],[30.05,-60.2],[30.07,-60.7],[30.10,-61.1],[30.12,-62.1],[30.14,-65.4],[30.16,-64.5],[30.18,-63.0],[30.20,-63.5],[30.23,-62.6],[30.25,-63.0],[30.27,-61.6],[30.29,-61.1],[30.31,-60.7],[30.34,-62.1],[30.36,-61.6],[30.38,-61.1],[30.40,-63.0],[30.42,-62.1],[30.44,-64.0],[30.47,-67.8],[30.49,-68.7],[30.51,-71.1],[30.53,-73.0],[30.55,-74.4],[30.57,-76.3],[30.58,-77.8],[30.60,-79.2],[30.62,-78.2],[30.64,-81.1],[30.66,-82.0],[30.68,-83.9],[30.71,-81.6],[30.73,-82.0],[30.75,-81.1],[30.77,-83.0],[30.79,-83.9],[30.81,-84.9],[30.84,-89.1],[30.86,-89.6],[30.88,-85.8],[30.90,-86.8],[30.92,-81.1],[30.95,-82.0],[30.97,-79.7],[30.99,-84.9],[31.01,-87.7],[31.03,-94.4],[31.06,-99.6],[31.08,-101.0],[31.10,-102.0],[31.12,-102.9],[31.14,-102.0],[31.16,-101.5],[31.19,-102.9],[31.21,-101.0],[31.23,-102.4],[31.25,-102.0],[31.27,-102.9],[31.29,-103.9],[31.32,-101.0],[31.34,-103.4],[31.36,-100.1],[31.38,-101.0],[31.40,-97.2],[31.43,-93.4],[31.45,-90.6],[31.47,-90.1],[31.49,-86.8],[31.51,-86.3],[31.53,-87.2],[31.56,-87.7],[31.58,-84.9],[31.60,-91.5],
[31.36,-99.1],[31.38,-100.5],[31.40,-101.0],[31.42,-90.6],[31.45,-92.4],[31.47,-92.9],[31.49,-88.2],[31.51,-85.8],[31.53,-86.3],[31.55,-85.3],[31.57,-88.2],[31.58,-94.3],[31.60,-99.6],[31.62,-100.0],[31.64,-101.0],[31.66,-103.8],[31.69,-100.5],[31.71,-101.9],[31.73,-99.1],[31.75,-101.5],[31.77,-101.9],[31.79,-102.9],[31.82,-101.0],[31.84,-101.5],[31.86,-100.5],[31.88,-99.6],[31.90,-99.1],[31.93,-100.5],[31.95,-99.6],[31.97,-101.5],[31.99,-101.0],[32.01,-101.9],[32.03,-100.5],[32.06,-99.6],[32.08,-101.9],[32.10,-99.1],[32.12,-98.6],[32.14,-98.1],[32.17,-99.1],[32.19,-98.6],[32.21,-98.1],[32.23,-99.6],[32.25,-98.6],[32.27,-99.1],[32.30,-100.0],[32.32,-97.7],[32.34,-98.1],[32.36,-97.7],[32.38,-98.6],[32.40,-98.1],[32.43,-99.6],[32.45,-99.1],[32.47,-100.5],[32.49,-102.9],[32.51,-99.6],[32.54,-100.0],[32.56,-99.1],[32.58,-98.1],[32.60,-101.0],[32.62,-100.5],[32.64,-101.9],[32.67,-99.6],[32.69,-101.0],[32.71,-102.4],[32.73,-100.5],[32.75,-101.5],[32.77,-103.8],[32.80,-101.9],[32.82,-104.8],[32.84,-103.4],[32.86,-105.7],[32.88,-101.0],[32.91,-104.8],[32.93,-106.7],[32.95,-103.8],[32.97,-105.3],[32.99,-106.7],[33.01,-103.8],[33.04,-107.6],[33.06,-106.2],[33.08,-104.8],[33.10,-108.1],[33.12,-106.7],[33.15,-105.3],[33.17,-107.6],[33.19,-106.2],[33.21,-108.6],[33.23,-107.6],[33.25,-104.8],[33.28,-109.5],[33.30,-108.6],[33.32,-109.1],[33.34,-107.6],[33.36,-110.0],[33.38,-108.6],[33.41,-107.2],[33.43,-110.5],[33.45,-109.5],[33.47,-110.9],[33.49,-111.4],[33.52,-110.0],[33.54,-105.3],[33.56,-108.6],[33.58,-113.3],[33.60,-114.8],[33.62,-118.1],[33.65,-119.0],[33.67,-118.5],[33.69,-120.0],[33.71,-117.6],[33.73,-119.0],[33.76,-120.9],[33.78,-120.0],[33.80,-121.9],[33.82,-118.5],[33.84,-126.1],[33.86,-120.0],[33.89,-122.8],[33.91,-119.5],[33.93,-123.8],[33.95,-120.9],[33.97,-114.3],[34.00,-114.8],[34.02,-112.9],[34.04,-116.2],[34.06,-113.3],[34.08,-114.8],[34.10,-116.2],[34.13,-109.5],[34.15,-115.7],[34.17,-110.5],[34.19,-115.2],[34.21,-116.6],[34.23,-119.0],[34.26,-116.2],[34.28,-114.8],[34.30,-112.4],[34.32,-117.1],[34.34,-112.9],[34.36,-113.8],[34.39,-120.0],[34.41,-118.1],[34.43,-116.2],[34.45,-119.5],[34.47,-117.6],[34.50,-112.4],[34.52,-114.3],[34.54,-116.2],[34.56,-114.8],[34.58,-115.7],[34.60,-119.0]
];

// Layout
const width = 1109, height = 615;
const plot = { left: 53.5, top: 27.5, right: 1117.5, bottom: 580.5 };

const x = d3.scaleLinear().domain([20.81, 34.72]).range([plot.left, plot.right]);
const y = d3.scaleLinear().domain([-134.8, 23.4]).range([plot.bottom, plot.top]);

const svg = d3.select("#chart");
const axisColor = "#262626";

// Grid
const grid = svg.append("g").attr("class", "grid");
grid.selectAll("line.gx").data(xTicks).join("line").attr("class", "gx")
  .attr("x1", d => Math.round(x(d)) + 0.5).attr("x2", d => Math.round(x(d)) + 0.5)
  .attr("y1", plot.top).attr("y2", plot.bottom)
  .attr("stroke", "#e8e8e8").attr("stroke-width", 1);
grid.selectAll("line.gy").data(yTicks).join("line").attr("class", "gy")
  .attr("x1", plot.left).attr("x2", plot.right)
  .attr("y1", d => Math.round(y(d)) + 0.5).attr("y2", d => Math.round(y(d)) + 0.5)
  .attr("stroke", "#e8e8e8").attr("stroke-width", 1);

// Data layers, clipped to the axes box
svg.append("clipPath").attr("id", "plotClip").append("rect")
  .attr("x", plot.left).attr("y", plot.top)
  .attr("width", plot.right - plot.left).attr("height", plot.bottom - plot.top);

const data = svg.append("g").attr("clip-path", "url(#plotClip)");
const lineGen = d3.line().x(d => x(d[0])).y(d => y(d[1]));

data.append("path").datum(hataPts)
  .attr("d", lineGen).attr("fill", "none")
  .attr("stroke", "#0000ff").attr("stroke-width", 0.6).attr("stroke-linejoin", "round");

data.append("path").datum(itmPts)
  .attr("d", lineGen).attr("fill", "none")
  .attr("stroke", "#ff0000").attr("stroke-width", 0.6).attr("stroke-linejoin", "round");

data.append("g").selectAll("circle").data(measPts).join("circle")
  .attr("cx", d => x(d[0])).attr("cy", d => y(d[1])).attr("r", 1.45)
  .attr("fill", "#000000");

// Axes
const fmt = d => String(d);
function styleAxis(g) {
  g.selectAll(".domain").attr("stroke", axisColor).attr("stroke-width", 0.6);
  g.selectAll(".tick line").attr("stroke", axisColor).attr("stroke-width", 0.6);
  g.selectAll(".tick text").attr("fill", axisColor)
    .style("font-size", "10px").style("font-family", "'Liberation Sans', Arial, Helvetica, sans-serif");
}

svg.append("g").attr("transform", `translate(0,${plot.bottom})`)
  .call(d3.axisBottom(x).tickValues(xTicks).tickFormat(fmt).tickSizeInner(-10).tickSizeOuter(0).tickPadding(7))
  .call(styleAxis);

svg.append("g").attr("transform", `translate(0,${plot.top})`)
  .call(d3.axisTop(x).tickValues(xTicks).tickFormat(() => "").tickSizeInner(-10).tickSizeOuter(0))
  .call(styleAxis);

svg.append("g").attr("transform", `translate(${plot.left},0)`)
  .call(d3.axisLeft(y).tickValues(yTicks).tickFormat(fmt).tickSizeInner(-10).tickSizeOuter(0).tickPadding(6))
  .call(styleAxis);

svg.append("g").attr("transform", `translate(${plot.right},0)`)
  .call(d3.axisRight(y).tickValues(yTicks).tickFormat(() => "").tickSizeInner(-10).tickSizeOuter(0))
  .call(styleAxis);

// Title and axis labels
const midX = (plot.left + plot.right) / 2;
svg.append("text")
  .attr("x", midX).attr("y", 20.5)
  .attr("text-anchor", "middle")
  .style("font-size", "15px").style("font-weight", "bold").attr("fill", "#000")
  .text("Potencia de rececao - Belver");

svg.append("text")
  .attr("x", midX).attr("y", 612)
  .attr("text-anchor", "middle")
  .style("font-size", "15px").attr("fill", axisColor)
  .text("PK [km]");

svg.append("text")
  .attr("transform", `translate(25,${(plot.top + plot.bottom) / 2}) rotate(-90)`)
  .attr("text-anchor", "middle")
  .style("font-size", "15px").attr("fill", axisColor)
  .text("Potencia de rececao do movel [dBm]");

// Legend
const legend = svg.append("g").attr("transform", "translate(968.5,37.5)");
legend.append("rect")
  .attr("width", 136).attr("height", 58)
  .attr("fill", "#ffffff").attr("stroke", axisColor).attr("stroke-width", 0.6);

const rowsY = [11.5, 30, 48.5];
const legendStyles = [
  { type: "line", color: "#0000ff" },
  { type: "line", color: "#ff0000" },
  { type: "dot", color: "#000000" }
];
seriesNames.forEach((name, i) => {
  const row = legend.append("g").attr("transform", `translate(0,${rowsY[i]})`);
  const st = legendStyles[i];
  if (st.type === "line") {
    row.append("line").attr("x1", 4).attr("x2", 32).attr("y1", 0).attr("y2", 0)
      .attr("stroke", st.color).attr("stroke-width", 0.6);
  } else {
    row.append("circle").attr("cx", 18).attr("cy", 0).attr("r", 1.45).attr("fill", st.color);
  }
  row.append("text").attr("x", 35).attr("y", 0).attr("dy", "0.35em")
    .style("font-size", "15px").attr("fill", "#000").text(name);
});
</script>
</body>
</html>
